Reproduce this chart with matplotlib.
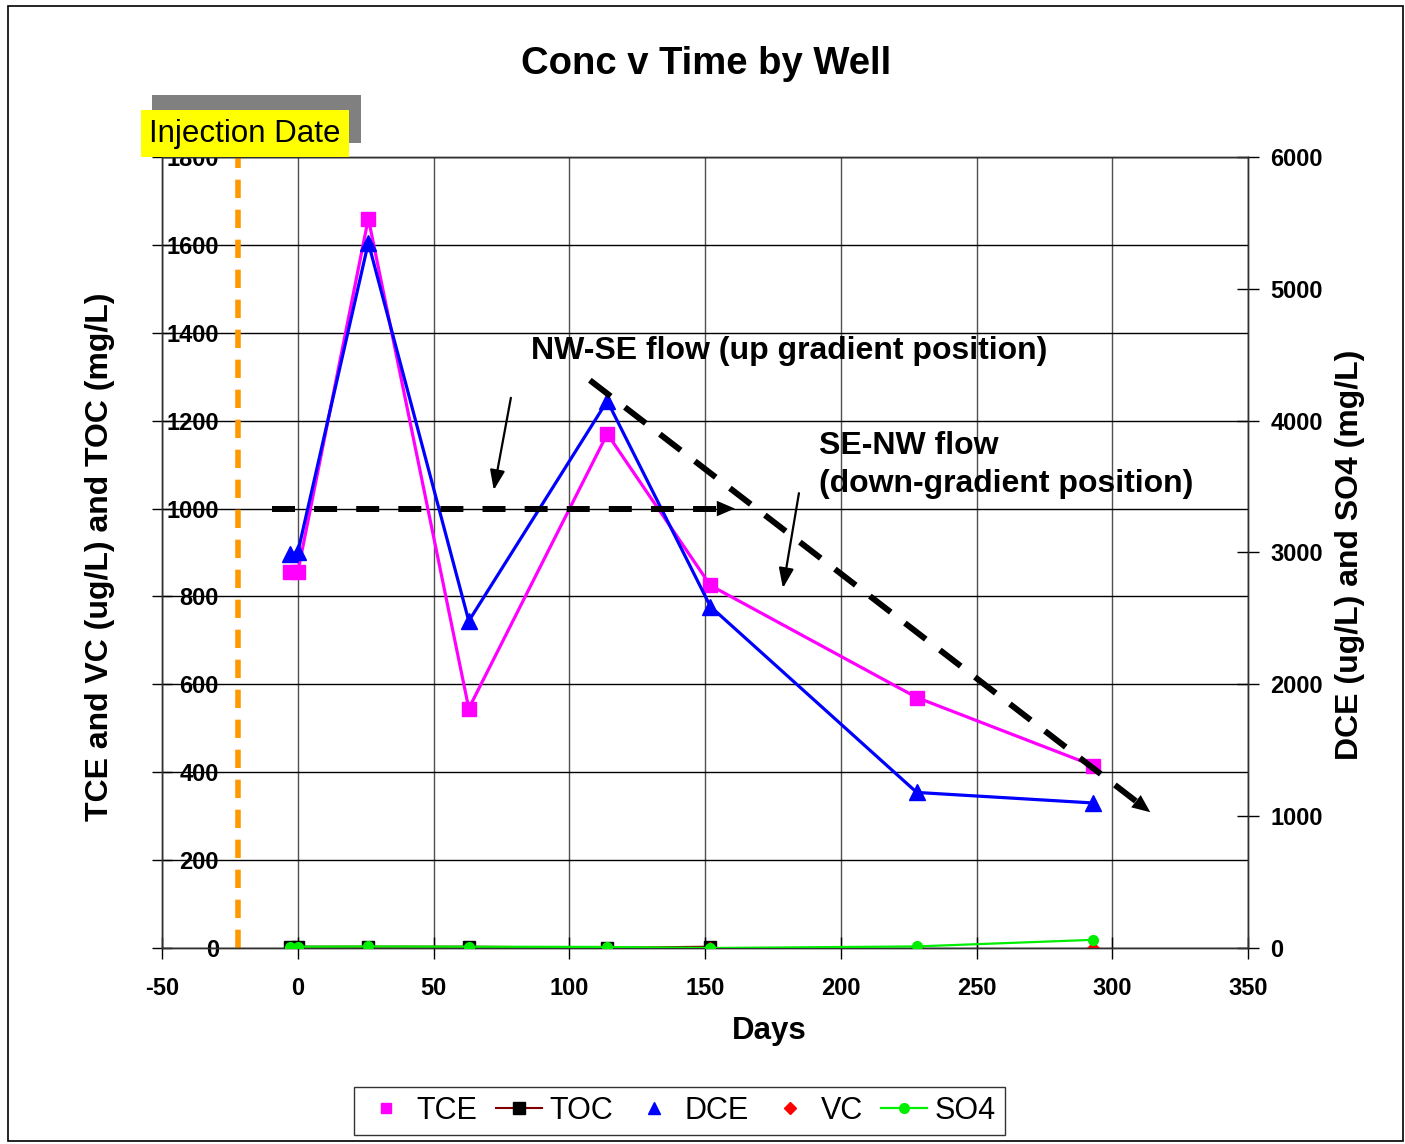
import matplotlib
matplotlib.use("Agg")
import matplotlib.pyplot as plt
from matplotlib.lines import Line2D
from matplotlib.patches import Rectangle

plt.rcParams["font.family"] = ["Liberation Sans", "DejaVu Sans"]

# ---- data ---------------------------------------------------------------
days = [-3, 0, 26, 63, 114, 152, 228, 293]
tce = [855, 855, 1660, 545, 1170, 825, 570, 415]            # ug/L (left)
dce = [2990, 3000, 5350, 2480, 4150, 2590, 1180, 1100]      # ug/L (right)
vc = [0, 0, 0, 0, 0, 0, 0, 0]                               # ug/L (left)
so4 = [10, 10, 12, 10, 8, 0, 12, 62]                        # mg/L (right)
toc_days = [-3, 0, 26, 63, 114, 152]
toc = [3, 3, 3, 3, 0.5, 3]                                  # mg/L (left)

injection_day = -22

x_ticks = [-50, 0, 50, 100, 150, 200, 250, 300, 350]
left_ticks = [0, 200, 400, 600, 800, 1000, 1200, 1400, 1600, 1800]
right_ticks = [0, 1000, 2000, 3000, 4000, 5000, 6000]

# flow-direction annotations (left-axis data units)
nwse_start, nwse_tip = (-9.5, 1000), (161, 1000)
senw_start, senw_tip = (107.6, 1292), (314, 309)
nwse_pointer = ((78.5, 1252), (72.2, 1042))
senw_pointer = ((184.6, 1035), (178.7, 819))

# ---- figure -------------------------------------------------------------
W, H = 1405, 1144
fig = plt.figure(figsize=(W / 100, H / 100), dpi=100)
ax = fig.add_axes([162 / W, 1 - 948 / H, (1248 - 162) / W, (948 - 157) / H])
ax2 = ax.twinx()

ax.set_xlim(-50, 350)
ax.set_ylim(0, 1800)
ax2.set_ylim(0, 6000)

tick_font = dict(fontsize=17, fontweight="bold")
ax.set_xticks(x_ticks, labels=[str(v) for v in x_ticks], **tick_font)
ax.set_yticks(left_ticks, labels=[str(v) for v in left_ticks], **tick_font)
ax2.set_yticks(right_ticks, labels=[str(v) for v in right_ticks], **tick_font)

ax.tick_params(axis="x", direction="inout", length=16, width=1, pad=13)
ax.tick_params(axis="y", direction="inout", length=14, width=1, pad=-48)
ax2.tick_params(axis="y", direction="inout", length=16, width=1, pad=8)

ax.grid(axis="y", color="black", lw=1)
ax.grid(axis="x", color="#505050", lw=1)
ax.set_axisbelow(True)
for sp in list(ax.spines.values()) + list(ax2.spines.values()):
    sp.set_color("#303030")
    sp.set_linewidth(1)

# injection date marker
ax.axvline(injection_day, color="#FF9900", lw=4, dashes=(3.3, 2.1), zorder=1)

# left-axis series
ax.plot(toc_days, toc, color="#800000", lw=1.5, marker="s", ms=8,
        mfc="black", mec="black", zorder=3)
ax.plot(days, vc, ls="none", marker="D", ms=6, color="red", zorder=3)
ax.plot(days, tce, color="#FF00FF", lw=2.3, marker="s", ms=10, zorder=4)

# right-axis series
ax2.plot(days, dce, color="#0000FF", lw=2.3, marker="^", ms=12, zorder=4)
ax2.plot(days, so4, color="#00EE00", lw=1.6, marker="o", ms=7, zorder=5)


# ---- annotations --------------------------------------------------------
def dashed_arrow(start, tip, frac, dashes):
    end = (start[0] + (tip[0] - start[0]) * frac,
           start[1] + (tip[1] - start[1]) * frac)
    ax2.plot([start[0], end[0]], [start[1], end[1]], transform=ax.transData,
             color="black", lw=4.3, dashes=dashes, dash_capstyle="butt",
             zorder=8, clip_on=False)
    base = (start[0] + (tip[0] - start[0]) * 0.9,
            start[1] + (tip[1] - start[1]) * 0.9)
    ax2.annotate("", xy=tip, xytext=base, xycoords=ax.transData,
                 textcoords=ax.transData, annotation_clip=False,
                 arrowprops=dict(arrowstyle="-|>,head_length=0.65,head_width=0.28",
                                 mutation_scale=20, color="black", lw=0,
                                 shrinkA=0, shrinkB=0), zorder=8)


def pointer(seg):
    ax2.annotate("", xy=seg[1], xytext=seg[0], xycoords=ax.transData,
                 textcoords=ax.transData, annotation_clip=False,
                 arrowprops=dict(arrowstyle="-|>,head_length=0.8,head_width=0.3",
                                 mutation_scale=15, color="black", lw=1.6,
                                 shrinkA=0, shrinkB=0), zorder=8)


dashed_arrow(nwse_start, nwse_tip, 0.961, (3.85, 3.2))
dashed_arrow(senw_start, senw_tip, 0.975, (4.4, 3.0))
pointer(nwse_pointer)
pointer(senw_pointer)

ann_font = dict(fontsize=23, fontweight="bold", color="black", zorder=9)
ax2.text(85.9, 1358, "NW-SE flow (up gradient position)", transform=ax.transData,
         ha="left", va="center", **ann_font)
ax2.text(191.9, 1143, "SE-NW flow", transform=ax.transData,
         ha="left", va="center", **ann_font)
ax2.text(191.9, 1056, "(down-gradient position)", transform=ax.transData,
         ha="left", va="center", **ann_font)

# ---- titles and labels --------------------------------------------------
fig.text(706 / W, 1 - 64 / H, "Conc v Time by Well", ha="center", va="center",
         fontsize=27.5, fontweight="bold")
fig.text(100 / W, 1 - 557 / H, "TCE and VC (ug/L) and TOC (mg/L)", rotation=90,
         ha="center", va="center", fontsize=23, fontweight="bold")
fig.text(1350 / W, 1 - 555 / H, "DCE (ug/L) and SO4 (mg/L)", rotation=90,
         ha="center", va="center", fontsize=23, fontweight="bold")
fig.text(769 / W, 1 - 1031 / H, "Days", ha="center", va="center",
         fontsize=22.5, fontweight="bold")

# "Injection Date" label with its drop shadow
fig.add_artist(Rectangle((152 / W, 1 - 143 / H), 209 / W, 48 / H,
                         transform=fig.transFigure, facecolor="#808080",
                         edgecolor="none", zorder=10))
fig.add_artist(Rectangle((141 / W, 1 - 157 / H), 208 / W, 47 / H,
                         transform=fig.transFigure, facecolor="#FFFF00",
                         edgecolor="none", zorder=11))
fig.text(245 / W, 1 - 134 / H, "Injection Date", ha="center", va="center",
         fontsize=22.5, zorder=12)

# legend
handles = [
    Line2D([], [], ls="none", marker="s", ms=7, color="#FF00FF"),
    Line2D([], [], color="#800000", lw=1.5, marker="s", ms=8,
           mfc="black", mec="black"),
    Line2D([], [], ls="none", marker="^", ms=8, color="#0000FF"),
    Line2D([], [], ls="none", marker="D", ms=6, color="red"),
    Line2D([], [], color="#00EE00", lw=1.6, marker="o", ms=7),
]
leg = fig.legend(handles, ["TCE", "TOC", "DCE", "VC", "SO4"], ncol=5,
                 loc="center", bbox_to_anchor=(679.5 / W, 1 - 1111 / H),
                 fontsize=22, frameon=True, fancybox=False, edgecolor="black",
                 handlelength=1.5, handletextpad=0.25, columnspacing=0.6,
                 borderpad=0.3, borderaxespad=0)
leg.get_frame().set_linewidth(1)

# outer border
fig.add_artist(Rectangle((8 / W, 1 - 1141 / H), 1395 / W, 1135 / H,
                         transform=fig.transFigure, fill=False,
                         edgecolor="black", lw=1.2, zorder=20))

fig.savefig("out.png", dpi=100)
